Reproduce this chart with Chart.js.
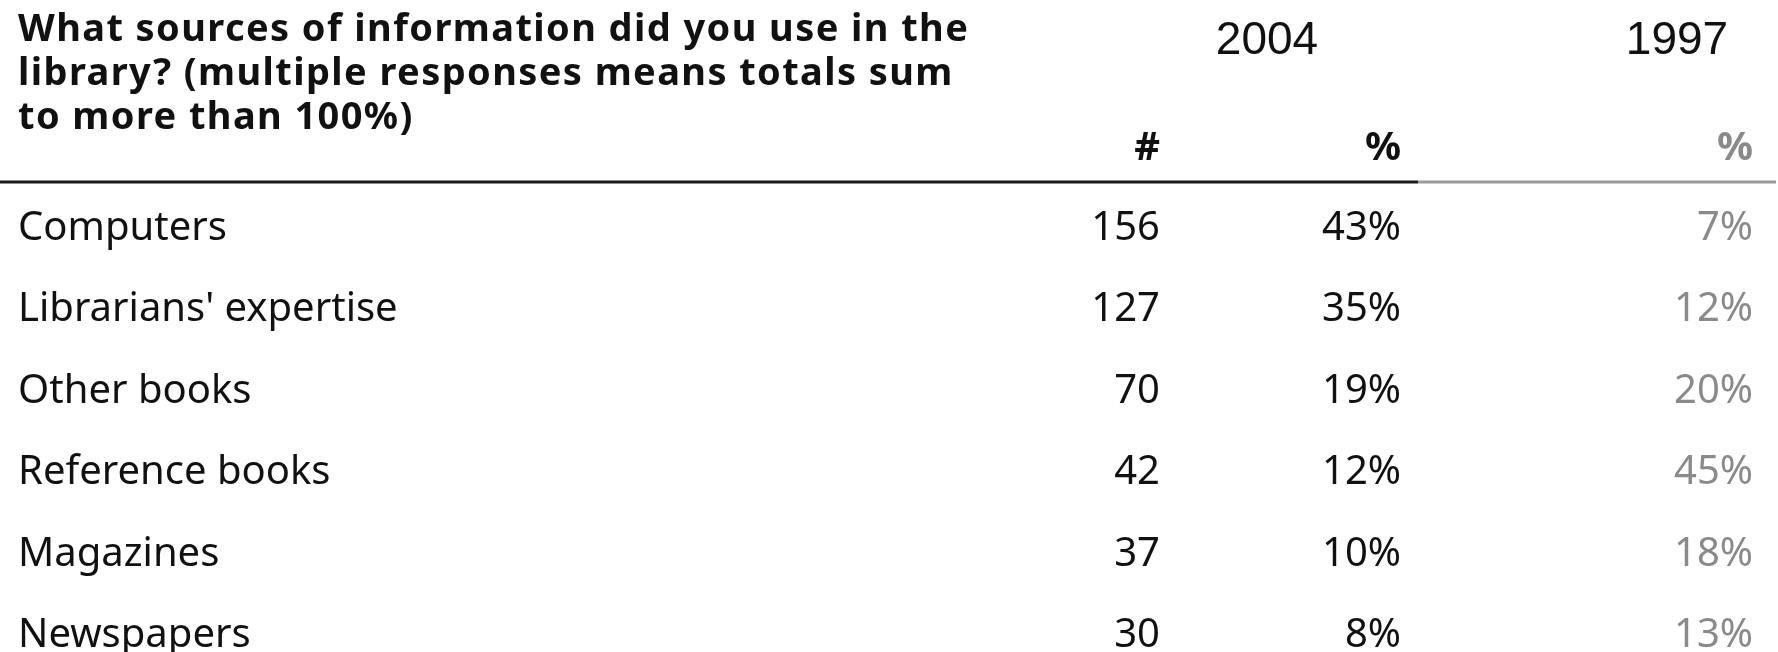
<!DOCTYPE html>
<html>
<head>
<meta charset="utf-8">
<style>
  html, body { margin: 0; padding: 0; background: #ffffff; }
  #wrap { width: 1778px; height: 652px; }
  canvas { display: block; }
</style>
<script src="https://cdn.jsdelivr.net/npm/chart.js@4.4.1/dist/chart.umd.min.js"></script>
</head>
<body>
<div id="wrap"><canvas id="c" width="1778" height="652"></canvas></div>
<script>
// ---- data ----
const TITLE_LINES = [
  'What sources of information did you use in the',
  'library? (multiple responses means totals sum',
  'to more than 100%)'
];
const CATEGORIES = ['Computers', "Librarians' expertise", 'Other books', 'Reference books', 'Magazines', 'Newspapers'];
const COUNT_2004 = [156, 127, 70, 42, 37, 30];
const PCT_2004 = [43, 35, 19, 12, 10, 8];
const PCT_1997 = [7, 12, 20, 45, 18, 13];
const YEARS = ['2004', '1997'];
const COLUMN_HEADERS = ['#', '%', '%'];

// ---- layout (positions in x-scale units, not data) ----
const COL_X = { label: 18, count: 1160, pct2004: 1401, pct1997: 1753 };
const YEAR_X = [1267, 1677];
const RULE_SPLIT_X = 1418;

const BLACK = '#111111';
const GREY = '#8a8a8a';
const BODY_FONT = "40px 'Noto Sans', 'Open Sans', sans-serif";

function columnData(xPos) {
  return CATEGORIES.map(c => ({ x: xPos, y: c }));
}

const datasets = [
  { label: '2004 #', data: columnData(COL_X.count), values: COUNT_2004, suffix: '', color: BLACK },
  { label: '2004 %', data: columnData(COL_X.pct2004), values: PCT_2004, suffix: '%', color: BLACK },
  { label: '1997 %', data: columnData(COL_X.pct1997), values: PCT_1997, suffix: '%', color: GREY }
].map(d => Object.assign(d, { pointRadius: 0, pointHoverRadius: 0, showLine: false, borderWidth: 0 }));

const tablePlugin = {
  id: 'tablePlugin',
  afterDraw(chart) {
    const ctx = chart.ctx;
    const xs = chart.scales.x, ys = chart.scales.y;
    ctx.save();

    // Title (question)
    ctx.fillStyle = BLACK;
    ctx.textAlign = 'left';
    ctx.textBaseline = 'alphabetic';
    ctx.font = "bold 38px 'Noto Sans', 'Open Sans', sans-serif";
    if ('letterSpacing' in ctx) ctx.letterSpacing = '1.4px';
    const titleBase = [41, 85, 129];
    TITLE_LINES.forEach((t, i) => ctx.fillText(t, xs.getPixelForValue(COL_X.label), titleBase[i]));
    if ('letterSpacing' in ctx) ctx.letterSpacing = '0px';

    // Years
    ctx.font = "46px 'Liberation Sans', Arial, sans-serif";
    ctx.textAlign = 'center';
    ctx.fillStyle = BLACK;
    YEARS.forEach((y, i) => ctx.fillText(y, xs.getPixelForValue(YEAR_X[i]), 54));

    // Column headers
    ctx.font = "bold 40px 'Noto Sans', 'Open Sans', sans-serif";
    ctx.textAlign = 'right';
    const hx = [COL_X.count, COL_X.pct2004, COL_X.pct1997];
    COLUMN_HEADERS.forEach((h, i) => {
      ctx.fillStyle = i === 2 ? GREY : BLACK;
      ctx.fillText(h, xs.getPixelForValue(hx[i]), 160);
    });

    // Rule
    ctx.lineWidth = 3;
    ctx.strokeStyle = '#1c1c1c';
    ctx.beginPath();
    ctx.moveTo(0, 182); ctx.lineTo(xs.getPixelForValue(RULE_SPLIT_X), 182);
    ctx.stroke();
    ctx.strokeStyle = '#9a9a9a';
    ctx.beginPath();
    ctx.moveTo(xs.getPixelForValue(RULE_SPLIT_X), 182); ctx.lineTo(1776, 182);
    ctx.stroke();

    // Row labels
    ctx.font = BODY_FONT;
    ctx.textAlign = 'left';
    ctx.fillStyle = BLACK;
    ys.ticks.forEach((t, i) => {
      ctx.fillText(ys.getLabelForValue(t.value), xs.getPixelForValue(COL_X.label), ys.getPixelForTick(i));
    });

    // Cell values
    ctx.textAlign = 'right';
    chart.data.datasets.forEach((ds, di) => {
      const meta = chart.getDatasetMeta(di);
      ctx.fillStyle = ds.color;
      meta.data.forEach((el, j) => {
        ctx.fillText(String(ds.values[j]) + ds.suffix, el.x, el.y);
      });
    });
    ctx.restore();
  }
};

new Chart(document.getElementById('c'), {
  type: 'scatter',
  data: { datasets },
  options: {
    responsive: false,
    devicePixelRatio: 1,
    animation: false,
    events: [],
    layout: { padding: { top: 240, bottom: 5, left: 0, right: 0 } },
    plugins: { legend: { display: false }, tooltip: { enabled: false }, title: { display: false } },
    scales: {
      x: { type: 'linear', min: 0, max: 1778, display: false },
      y: { type: 'category', labels: CATEGORIES, offset: false, display: false }
    }
  },
  plugins: [tablePlugin]
});
</script>
</body>
</html>
